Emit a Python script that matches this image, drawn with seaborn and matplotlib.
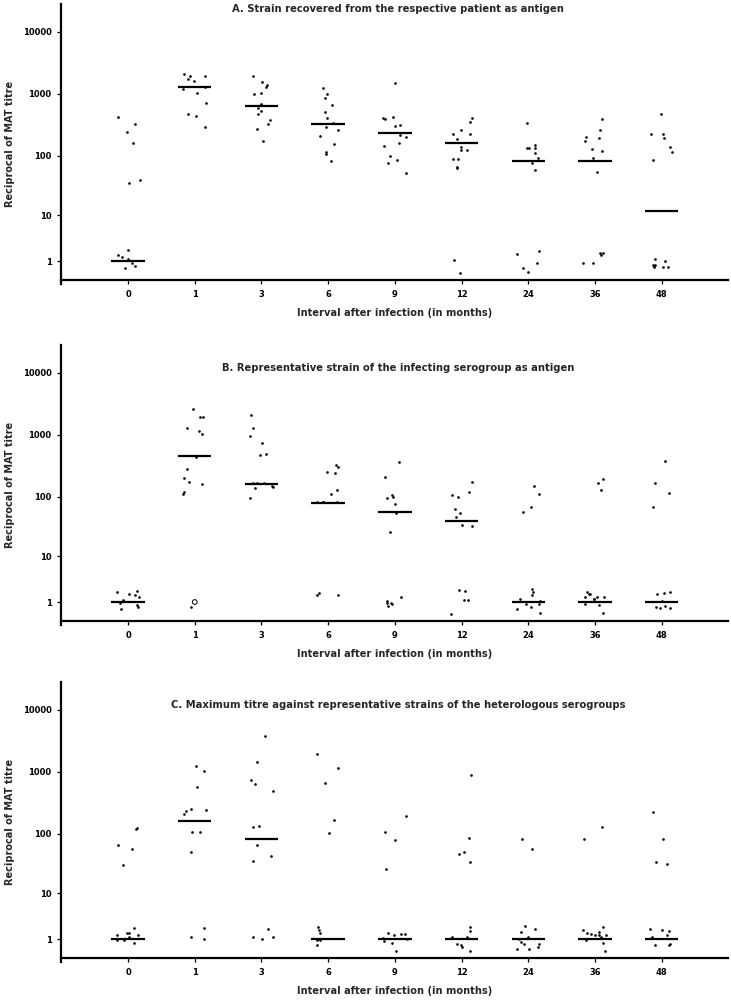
import numpy as np
import pandas as pd
import matplotlib
matplotlib.use("Agg")
import matplotlib.pyplot as plt
import seaborn as sns

# ---------------- data ----------------
months = ["0", "1", "3", "6", "9", "12", "24", "36", "48"]

titles = [
    "A. Strain recovered from the respective patient as antigen",
    "B. Representative strain of the infecting serogroup as antigen",
    "C. Maximum titre against representative strains of the heterologous serogroups",
]

titres_a = [
    [423, 322, 245, 162, 40, 35, 2.0, 1.5, 1.34, 1.15, 0.83, 0.68, 0.56],
    [2095, 1945, 1945, 1741, 1614, 1277, 1185, 1022, 712, 473, 434, 288],
    [1967, 1538, 1376, 1277, 1046, 995, 686, 584, 529, 473, 373, 322, 273, 172],
    [1259, 983, 858, 660, 508, 402, 334, 294, 260, 208, 154, 114, 106, 80],
    [1499, 428, 410, 392, 317, 298, 218, 200, 162, 141, 100, 84, 76, 52],
    [407, 351, 260, 222, 222, 188, 140, 122, 122, 88, 87, 66, 63, 1.05, 0.29],
    [343, 148, 133, 133, 133, 111, 90, 75, 57, 1.93, 1.59, 0.88, 0.52, 0.34],
    [397, 260, 200, 195, 172, 128, 120, 92, 53, 1.69, 1.69, 1.47, 0.88, 0.83],
    [478, 227, 227, 193, 140, 113, 85, 1.18, 1.02, 0.70, 0.70, 0.61, 0.61, 0.61],
]
medians_a = [1, 1278, 644, 322, 230, 162, 80, 80, 12]

titres_b = [
    [2.04, 1.93, 1.69, 1.57, 1.38, 1.15, 0.9, 0.77, 0.68, 0.56],
    [2594, 1923, 1923, 1279, 1168, 1023, 444, 280, 200, 174, 160, 117, 110, 0.64],
    [2098, 1308, 970, 747, 490, 467, 168, 168, 168, 148, 141, 136, 95],
    [329, 302, 253, 244, 129, 109, 80, 80, 80, 80, 1.82, 1.6, 1.56],
    [368, 206, 107, 99, 96, 75, 54, 26, 1.41, 1.07, 0.95, 0.95, 0.85, 0.72],
    [172, 120, 107, 99, 63, 54, 46, 34, 33, 2.15, 2.04, 1.15, 1.15, 0.28],
    [148, 111, 67, 56, 2.28, 1.87, 1.56, 1.21, 1.1, 0.85, 0.85, 0.68, 0.52, 0.34],
    [195, 168, 127, 1.93, 1.69, 1.69, 1.43, 1.43, 1.38, 1.26, 1.21, 0.85, 0.79, 0.31],
    [378, 166, 113, 68, 1.93, 1.79, 1.74, 1.07, 0.7, 0.65, 0.6, 0.6],
]
medians_b = [1, 456, 162, 79, 56, 40, 1, 1, 1]
open_month_b = ["1"]
open_titre_b = [1.0]

titres_c = [
    [122, 119, 66, 56, 30, 2.04, 1.52, 1.52, 1.3, 1.3, 1.13, 0.92, 0.92, 0.74],
    [1259, 1022, 563, 251, 244, 235, 210, 107, 107, 50, 2.0, 1.18, 0.98],
    [3845, 1461, 739, 637, 490, 134, 129, 64, 42, 35, 1.9, 1.13, 1.13, 0.98],
    [1945, 1168, 654, 166, 102, 2.15, 1.79, 1.52, 0.92, 0.92, 0.61],
    [193, 107, 79, 26, 1.5, 1.45, 1.4, 1.35, 1.05, 0.98, 0.88, 0.74, 0.28],
    [880, 85, 50, 46, 34, 2.08, 1.69, 1.13, 1.13, 0.66, 0.6, 0.5, 0.28],
    [80, 56, 2.24, 1.87, 1.56, 1.18, 1.02, 0.81, 0.66, 0.66, 0.48, 0.4, 0.36],
    [126, 80, 2.1, 1.8, 1.6, 1.5, 1.45, 1.3, 1.3, 1.3, 1.15, 0.92, 0.74, 0.3],
    [221, 82, 34, 32, 1.93, 1.76, 1.72, 1.32, 1.13, 0.66, 0.62, 0.6],
]
medians_c = [1, 160, 80, 1, 1, 1, 1, 1, 1]

ytick_values = [1, 10, 100, 1000, 10000]
ytick_labels = ["1", "10", "100", "1000", "10000"]
xlabel_text = "Interval after infection (in months)"
ylabel_text = "Reciprocal of MAT titre"

# ---------------- styling ----------------
sns.set_theme(style="ticks")
plt.rcParams["font.family"] = ["DejaVu Sans"]
plt.rcParams["font.weight"] = "bold"
plt.rcParams["axes.labelweight"] = "bold"


def fwd(y):
    return np.log10(np.clip(np.asarray(y, dtype=float) + 1.0, 1e-3, None))


def inv(y):
    return 10.0 ** np.asarray(y, dtype=float) - 1.0


fig = plt.figure(figsize=(7.31, 10), dpi=100)
bottoms = [0.7163, 0.3753, 0.0383]
title_y = [0.984, 0.917, 0.918]
panels = [(titres_a, medians_a), (titres_b, medians_b), (titres_c, medians_c)]

np.random.seed(7)
for i, (titres, medians) in enumerate(panels):
    ax = fig.add_axes([0.0839, bottoms[i], 0.9125, 0.2796])
    df = pd.DataFrame({
        "month": [m for m, vals in zip(months, titres) for _ in vals],
        "titre": [v for vals in titres for v in vals],
    })
    sns.stripplot(data=df, x="month", y="titre", order=months, jitter=0.18,
                  size=1.9, color="black", linewidth=0, ax=ax)
    if i == 1:
        odf = pd.DataFrame({"month": open_month_b, "titre": open_titre_b})
        sns.stripplot(data=odf, x="month", y="titre", order=months, jitter=False,
                      size=3.4, color="black", facecolors="none",
                      edgecolor="black", linewidth=0.7, ax=ax)
    ax.set_yscale("function", functions=(fwd, inv))
    idx = np.arange(len(months))
    ax.hlines(medians, idx - 0.25, idx + 0.25, color="black", lw=1.6)

    ax.set_xlim(-1, 9)
    ax.set_ylim(-0.14, 10 ** 4.45 - 1)
    ax.set_yticks(ytick_values)
    ax.set_yticklabels(ytick_labels)
    ax.set_xticks(idx)
    ax.set_xticklabels(months)
    ax.tick_params(axis="both", length=3, width=0.9, labelsize=6.0, colors="black")
    ax.tick_params(axis="x", pad=4.5)
    ax.tick_params(axis="y", pad=4)
    for lab in ax.get_xticklabels() + ax.get_yticklabels():
        lab.set_fontweight("bold")

    sns.despine(ax=ax)
    ax.spines["bottom"].set_position(("data", 0))
    ax.spines["left"].set_linewidth(1.6)
    ax.spines["bottom"].set_linewidth(1.6)
    ax.spines["left"].set_color("black")
    ax.spines["bottom"].set_color("black")

    ax.set_xlabel("")
    ax.text(0.5, -0.104, xlabel_text, transform=ax.transAxes, ha="center",
            va="center", fontsize=7.1, fontweight="bold")
    ax.set_ylabel(ylabel_text, fontsize=7.0, fontweight="bold")
    ax.yaxis.set_label_coords(-0.069, 0.5)
    ax.text(0.505, title_y[i], titles[i], transform=ax.transAxes, ha="center",
            va="center", fontsize=7.2, fontweight="bold")

fig.savefig("out.png", dpi=100)
